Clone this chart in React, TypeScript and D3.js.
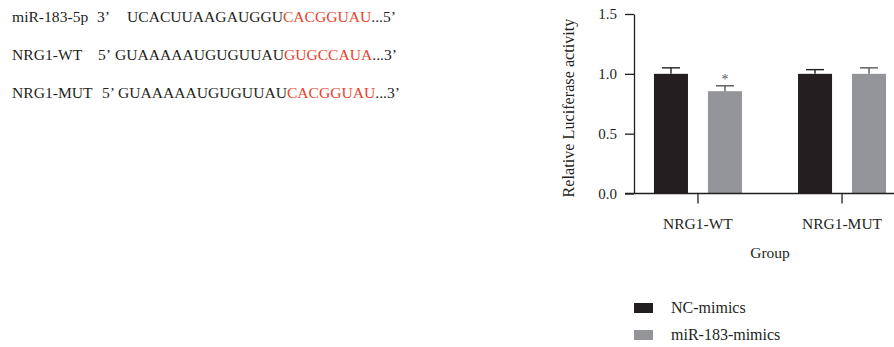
import React, { useEffect, useRef } from "react";
import * as d3 from "d3";

const groups = ["NRG1-WT", "NRG1-MUT"];
const series = ["NC-mimics", "miR-183-mimics"];
const means = [
  [1.0, 0.855],
  [1.0, 1.0],
];
const errs = [
  [0.05, 0.045],
  [0.035, 0.05],
];
const marks = [
  ["", "*"],
  ["", ""],
];
const yTicks = [0, 0.5, 1.0, 1.5];
const colors = ["#231f20", "#939598"];
const capColors = ["#231f20", "#58595b"];

// sequence lines: label, prime, plain part, red part, tail
const seqLines = [
  { label: "miR-183-5p", prime: "3\u2019", plain: "UCACUUAAGAUGGU", red: "CACGGUAU", tail: "...5\u2019", px: 97, sx: 127 },
  { label: "NRG1-WT", prime: "5\u2019", plain: "GUAAAAAUGUGUUAU", red: "GUGCCAUA", tail: "...3\u2019", px: 98, sx: 115 },
  { label: "NRG1-MUT", prime: "5\u2019", plain: "GUAAAAAUGUGUUAU", red: "CACGGUAU", tail: "...3\u2019", px: 102, sx: 118 },
];

const font = "'Liberation Serif', 'Times New Roman', serif";
const ink = "#231f20";

const App = () => {
  const gy = useRef<SVGGElement>(null);

  const y = d3.scaleLinear([0, 1.5], [193.5, 14]);
  const x = d3.scalePoint<string>().domain(groups).range([634, 906]).padding(0.444);
  const xs = d3.scaleBand<string>().domain(series).range([-44, 44]).paddingInner(0.37);

  useEffect(() => {
    const g = d3.select(gy.current!);
    g.call(
      d3.axisLeft(y).tickValues(yTicks).tickFormat(d3.format(".1f")).tickSize(9).tickSizeOuter(0).tickPadding(8)
    );
    g.selectAll("path, line").attr("stroke", ink).attr("stroke-width", 1.3);
    g.selectAll("text").attr("font-family", font).attr("font-size", 15).attr("fill", ink);
  }, []);

  return (
    <svg width={894} height={347} style={{ position: "absolute", left: 0, top: 0 }} fontFamily={font}>
      {seqLines.map((s, i) => {
        const by = 22 + i * 38;
        return (
          <g key={s.label} fontSize={15.6} fill={ink}>
            <text x={12} y={by}>{s.label}</text>
            <text x={s.px} y={by}>{s.prime}</text>
            <text x={s.sx} y={by}>
              {s.plain}
              <tspan fill="#e8432d">{s.red}</tspan>
              <tspan>{s.tail}</tspan>
            </text>
          </g>
        );
      })}

      {groups.map((grp, gi) =>
        series.map((sr, si) => {
          const bx = x(grp)! + xs(sr)!;
          const cx = bx + xs.bandwidth() / 2;
          const top = means[gi][si] + errs[gi][si];
          return (
            <g key={grp + sr}>
              <rect x={bx} y={y(means[gi][si])} width={xs.bandwidth()} height={y(0) - y(means[gi][si])} fill={colors[si]} />
              <line x1={cx} x2={cx} y1={y(means[gi][si])} y2={y(top)} stroke={capColors[si]} strokeWidth={1.4} />
              <line x1={cx - 9} x2={cx + 9} y1={y(top)} y2={y(top)} stroke={capColors[si]} strokeWidth={1.4} />
              {marks[gi][si] && (
                <text x={cx} y={y(top) - 2} textAnchor="middle" fontSize={14} fill="#58595b">
                  {marks[gi][si]}
                </text>
              )}
            </g>
          );
        })
      )}

      <g ref={gy} transform="translate(634,0)" />
      <line x1={625} x2={894} y1={y(0)} y2={y(0)} stroke={ink} strokeWidth={1.3} />
      {groups.map((grp) => (
        <g key={grp}>
          <line x1={x(grp)} x2={x(grp)} y1={y(0)} y2={y(0) + 10} stroke={ink} strokeWidth={1.3} />
          <text x={x(grp)} y={228.5} textAnchor="middle" fontSize={15.5} fill={ink}>
            {grp}
          </text>
        </g>
      ))}
      <text x={770} y={258} textAnchor="middle" fontSize={15.5} fill={ink}>
        Group
      </text>
      <text
        transform={`translate(574,108) rotate(-90)`}
        textAnchor="middle"
        fontSize={16.2}
        fill={ink}
      >
        Relative Luciferase activity
      </text>

      {series.map((sr, si) => (
        <g key={sr} transform={`translate(634,${303 + si * 27})`}>
          <rect width={19} height={10} fill={colors[si]} />
          <text x={37} y={9.5} fontSize={16} fill={ink}>
            {sr}
          </text>
        </g>
      ))}
    </svg>
  );
};

export default App;
